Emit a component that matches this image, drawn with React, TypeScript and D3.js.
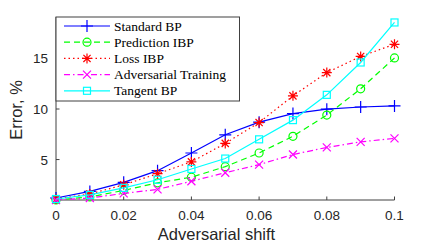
import React from "react";
import * as d3 from "d3";

const shifts = [0, 0.01, 0.02, 0.03, 0.04, 0.05, 0.06, 0.07, 0.08, 0.09, 0.1];
const standardBP = [1.2, 1.85, 2.75, 3.9, 5.65, 7.45, 8.7, 9.55, 9.98, 10.2, 10.3];
const predictionIBP = [1.0, 1.3, 1.95, 2.7, 3.25, 4.3, 5.65, 7.3, 9.4, 12.0, 15.05];
const lossIBP = [1.1, 1.6, 2.5, 3.6, 4.77, 6.6, 8.66, 11.3, 13.6, 15.2, 16.4];
const adversarialTraining = [1.0, 1.2, 1.65, 2.05, 2.85, 3.7, 4.5, 5.5, 6.2, 6.75, 7.1];
const tangentBP = [1.1, 1.5, 2.2, 3.0, 4.07, 5.1, 7.0, 8.9, 11.4, 14.6, 18.56];

const xTicks = [0, 0.02, 0.04, 0.06, 0.08, 0.1];
const yTicks = [5, 10, 15];
const seriesNames = ["Standard BP", "Prediction IBP", "Loss IBP", "Adversarial Training", "Tangent BP"];

type Marker = "plus" | "circle" | "star" | "cross" | "square";
const seriesData = [standardBP, predictionIBP, lossIBP, adversarialTraining, tangentBP];
const colors = ["#0000ff", "#00ff00", "#ff0000", "#ff00ff", "#00ffff"];
const dashes = ["", "6,4", "1.5,3", "6,3,1.5,3", ""];
const markers: Marker[] = ["plus", "circle", "star", "cross", "square"];

function MarkerShape({ type, x, y, color }: { type: Marker; x: number; y: number; color: string }) {
  const sw = 1.2;
  if (type === "plus") {
    const s = 6;
    return <path d={`M${x - s},${y}H${x + s}M${x},${y - s}V${y + s}`} stroke={color} strokeWidth={sw} fill="none" />;
  }
  if (type === "circle") return <circle cx={x} cy={y} r={4} stroke={color} strokeWidth={sw} fill="none" />;
  if (type === "square") return <rect x={x - 3.5} y={y - 3.5} width={7} height={7} stroke={color} strokeWidth={sw} fill="none" />;
  if (type === "cross") {
    const s = 4;
    return <path d={`M${x - s},${y - s}L${x + s},${y + s}M${x - s},${y + s}L${x + s},${y - s}`} stroke={color} strokeWidth={sw} fill="none" />;
  }
  const s = 5, d = 3.6;
  return (
    <path
      d={`M${x - s},${y}H${x + s}M${x},${y - s}V${y + s}M${x - d},${y - d}L${x + d},${y + d}M${x - d},${y + d}L${x + d},${y - d}`}
      stroke={color}
      strokeWidth={sw}
      fill="none"
    />
  );
}

export default function App() {
  const W = 436, H = 245;
  const left = 56, right = 394.5, top = 17, bottom = 200;
  const x = d3.scaleLinear().domain([0, 0.1]).range([left, right]);
  const y = d3.scaleLinear().domain([1, 19.1]).range([bottom, top]);
  const line = d3.line<number>().x((_, i) => x(shifts[i])).y((v) => y(v));
  const axisColor = "#404040";
  const sans = "'Liberation Sans', Arial, sans-serif";
  const serif = "'Liberation Serif', 'DejaVu Serif', serif";

  return (
    <svg width={W} height={H} style={{ position: "absolute", left: 0, top: 0, background: "#fff" }}>
      {/* axes */}
      <line x1={left} y1={top} x2={left} y2={bottom} stroke={axisColor} strokeWidth={1} />
      <line x1={left} y1={bottom} x2={right} y2={bottom} stroke={axisColor} strokeWidth={1} />
      {xTicks.map((t) => (
        <g key={"x" + t}>
          <line x1={x(t)} x2={x(t)} y1={bottom} y2={bottom - 3.5} stroke={axisColor} />
          <text x={x(t)} y={220} textAnchor="middle" fontFamily={sans} fontSize={13.5} fill="#262626">
            {String(t)}
          </text>
        </g>
      ))}
      {yTicks.map((t) => (
        <g key={"y" + t}>
          <line x1={left} x2={left + 3.5} y1={y(t)} y2={y(t)} stroke={axisColor} />
          <text x={48} y={y(t) + 5} textAnchor="end" fontFamily={sans} fontSize={13.5} fill="#262626">
            {t}
          </text>
        </g>
      ))}
      <text x={216.5} y={240} textAnchor="middle" fontFamily={sans} fontSize={16.5} fill="#262626">
        Adversarial shift
      </text>
      <text transform={`translate(22,${110}) rotate(-90)`} textAnchor="middle" fontFamily={sans} fontSize={16.5} fill="#262626">
        Error, %
      </text>

      {/* series */}
      {seriesData.map((vals, si) => (
        <g key={si}>
          <path d={line(vals) || ""} fill="none" stroke={colors[si]} strokeWidth={1.2} strokeDasharray={dashes[si]} />
          {vals.map((v, i) => (
            <MarkerShape key={i} type={markers[si]} x={x(shifts[i])} y={y(v)} color={colors[si]} />
          ))}
        </g>
      ))}

      {/* legend */}
      <rect x={left} y={top} width={183.5} height={84} fill="#fff" stroke={axisColor} strokeWidth={1} />
      {seriesNames.map((name, i) => {
        const ly = 26 + i * 16.2;
        return (
          <g key={name}>
            <line x1={64} x2={110} y1={ly} y2={ly} stroke={colors[i]} strokeWidth={1.2} strokeDasharray={dashes[i]} />
            <MarkerShape type={markers[i]} x={87} y={ly} color={colors[i]} />
            <text x={114} y={ly + 4.5} fontFamily={serif} fontSize={13.5} fill="#000">
              {name}
            </text>
          </g>
        );
      })}
    </svg>
  );
}
